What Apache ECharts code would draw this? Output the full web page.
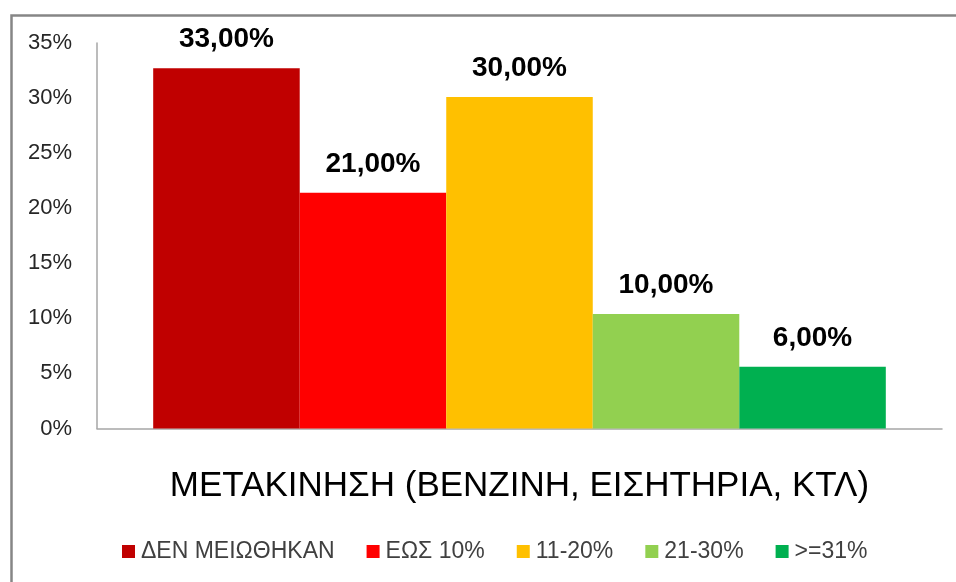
<!DOCTYPE html>
<html>
<head>
<meta charset="utf-8">
<script src="https://cdn.jsdelivr.net/npm/echarts@6/dist/echarts.min.js"></script>
<style>html,body{margin:0;padding:0;background:#fff}#c{width:956px;height:582px}</style>
</head>
<body>
<div id="c"></div>
<script>
const categories = ['ΜΕΤΑΚΙΝΗΣΗ (ΒΕΝΖΙΝΗ, ΕΙΣΗΤΗΡΙΑ, ΚΤΛ)'];
const seriesNames = ['ΔΕΝ ΜΕΙΩΘΗΚΑΝ', 'ΕΩΣ 10%', '11-20%', '21-30%', '>=31%'];
const seriesValues = [32.7, 21.4, 30.1, 10.4, 5.6];
const seriesLabels = ['33,00%', '21,00%', '30,00%', '10,00%', '6,00%'];
const seriesColors = ['#C00000', '#FF0000', '#FFC000', '#92D050', '#00B050'];
const yTicks = [0, 5, 10, 15, 20, 25, 30, 35];

const FONT = 'Liberation Sans';
const chart = echarts.init(document.getElementById('c'));
chart.setOption({
  animation: false,
  textStyle: { fontFamily: FONT },
  graphic: [{
    type: 'rect', left: 9, top: 13,
    shape: { width: 1000, height: 620 },
    style: { fill: 'none', stroke: '#868686', lineWidth: 2.5 },
    silent: true
  }],
  grid: { left: 97, right: 14, top: 43, bottom: 153.5, containLabel: false },
  legend: {
    left: 117, top: 535,
    itemWidth: 13, itemHeight: 13, itemGap: 32,
    icon: 'rect',
    textStyle: { fontFamily: FONT, fontSize: 23, color: '#404040', padding: [0, 0, 0, 1] },
    data: seriesNames
  },
  xAxis: {
    type: 'category',
    data: categories,
    axisLine: { lineStyle: { color: '#a6a6a6', width: 1.5 } },
    axisTick: { show: false },
    axisLabel: { fontFamily: FONT, fontSize: 35, color: '#000', margin: 40 }
  },
  yAxis: {
    type: 'value',
    min: yTicks[0], max: yTicks[yTicks.length - 1], interval: 5,
    splitLine: { show: false },
    axisLine: { show: true, lineStyle: { color: '#a6a6a6', width: 1.5 } },
    axisTick: { show: false },
    axisLabel: { fontFamily: FONT, fontSize: 22, color: '#262626', margin: 25, formatter: v => v + '%' }
  },
  series: seriesNames.map((name, i) => ({
    name: name,
    type: 'bar',
    data: [seriesValues[i]],
    barGap: '0%',
    barCategoryGap: '13.3%',
    itemStyle: { color: seriesColors[i] },
    label: {
      show: true, position: 'top', distance: 15,
      fontFamily: FONT, fontSize: 28, fontWeight: 'bold', color: '#000',
      formatter: () => seriesLabels[i]
    }
  }))
});
</script>
</body>
</html>
